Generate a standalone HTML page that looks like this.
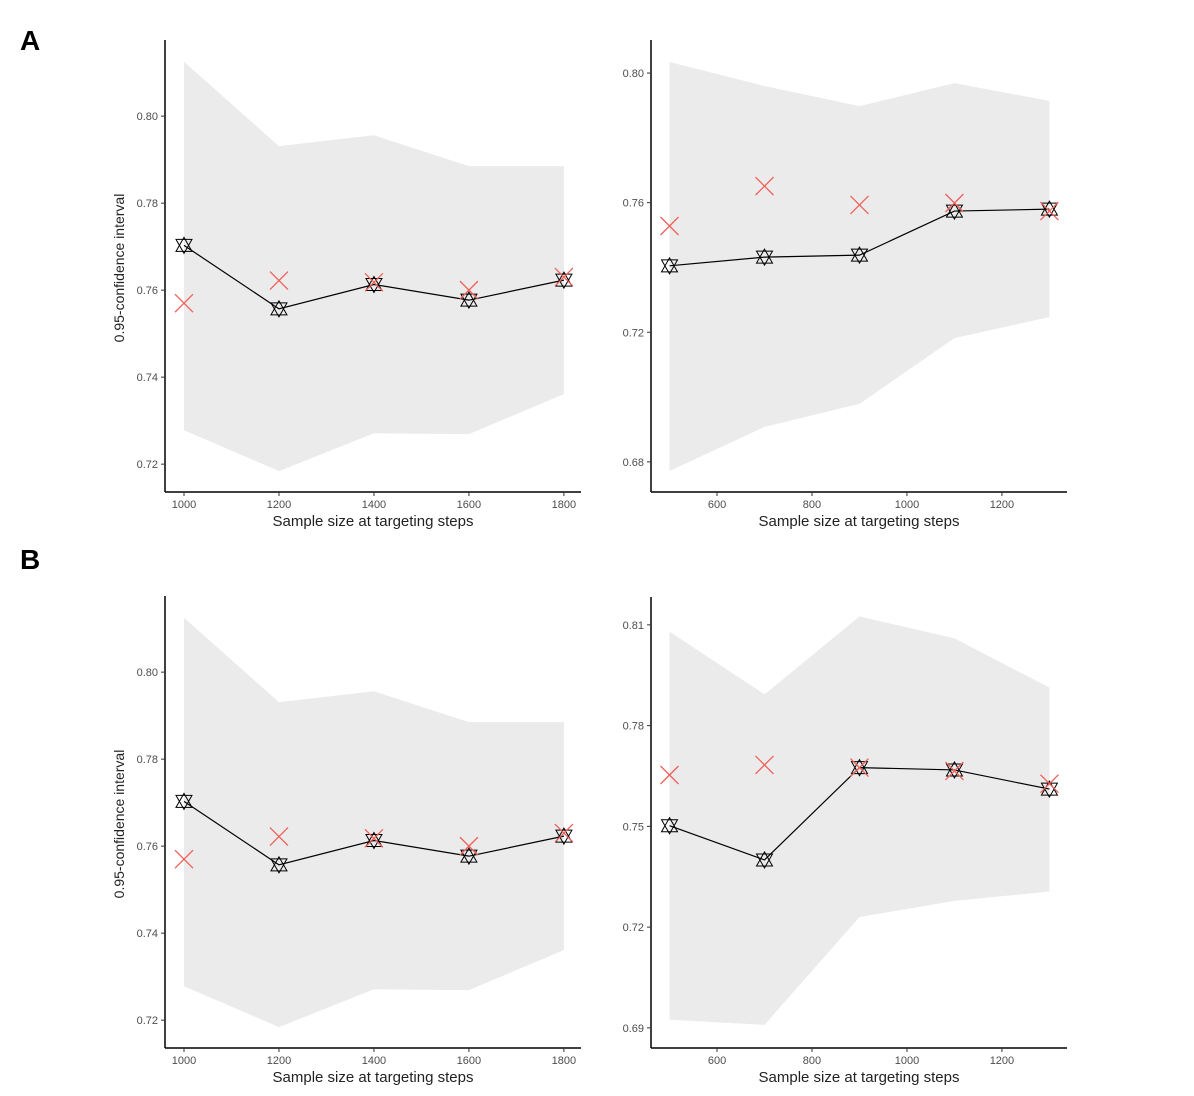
<!DOCTYPE html>
<html><head><meta charset="utf-8">
<style>
body{margin:0;background:#fff;width:1194px;height:1091px;overflow:hidden;font-family:"Liberation Sans",sans-serif}
svg text{font-family:"Liberation Sans",sans-serif}
</style></head>
<body>
<svg id="chart" width="1194" height="1091" viewBox="0 0 1194 1091" xmlns="http://www.w3.org/2000/svg">
<text x="20" y="50" font-size="28" font-weight="bold" fill="#000">A</text>
<text x="20" y="569" font-size="28" font-weight="bold" fill="#000">B</text>
</svg>
<script>
// Panel A-left / B-left data
const xA1 = [1000, 1200, 1400, 1600, 1800];
const meanA1 = [0.7703, 0.7557, 0.7613, 0.7577, 0.7623];
const redA1 = [0.757, 0.7622, 0.7618, 0.760, 0.763];
const upA1 = [0.8125, 0.7931, 0.7956, 0.7885, 0.7885];
const loA1 = [0.7278, 0.7184, 0.7271, 0.7269, 0.7361];
const yTicksA1 = [0.72, 0.74, 0.76, 0.78, 0.80];
const xTicksA1 = [1000, 1200, 1400, 1600, 1800];
// Panel A-right data
const xA2 = [500, 700, 900, 1100, 1300];
const meanA2 = [0.7405, 0.7432, 0.7438, 0.7574, 0.758];
const redA2 = [0.7528, 0.7651, 0.7593, 0.7599, 0.7574];
const upA2 = [0.8034, 0.796, 0.7898, 0.7969, 0.7914];
const loA2 = [0.6772, 0.6908, 0.6979, 0.7182, 0.7247];
const yTicksA2 = [0.68, 0.72, 0.76, 0.80];
const xTicksA2 = [600, 800, 1000, 1200];
// Panel B-right data
const meanB2 = [0.7502, 0.740, 0.7675, 0.7668, 0.7611];
const redB2 = [0.7653, 0.7683, 0.7675, 0.7665, 0.7627];
const upB2 = [0.808, 0.7893, 0.8125, 0.806, 0.7913];
const loB2 = [0.6924, 0.6909, 0.723, 0.7278, 0.7306];
const yTicksB2 = [0.69, 0.72, 0.75, 0.78, 0.81];

const svg = document.getElementById('chart');
const NS = 'http://www.w3.org/2000/svg';
function mk(tag, attrs, parent){
  const e = document.createElementNS(NS, tag);
  for (const k in attrs) e.setAttribute(k, attrs[k]);
  (parent||svg).appendChild(e);
  return e;
}

function panel(name, box, xDom, yDom, xs, mean, red, up, lo, xt, yt, showYTitle){
  const g = mk('g', {});
  
  
  const sx = v => box.l + (v - xDom[0]) / (xDom[1] - xDom[0]) * (box.r - box.l);
  const sy = v => box.b - (v - yDom[0]) / (yDom[1] - yDom[0]) * (box.b - box.t);
  let pts = xs.map((x,i)=>sx(x)+','+sy(up[i]));
  for (let i = xs.length-1; i>=0; i--) pts.push(sx(xs[i])+','+sy(lo[i]));
  const rib = mk('polygon', {points: pts.join(' '), fill:'#ebebeb'}, g);
  
  
  const ya = mk('line', {x1:box.l, y1:box.t, x2:box.l, y2:box.b, stroke:'#000', 'stroke-width':1.5}, g);
  
  
  const xa = mk('line', {x1:box.l, y1:box.b, x2:box.r, y2:box.b, stroke:'#000', 'stroke-width':1.5}, g);
  
  
  yt.forEach(v=>{
    const y = sy(v);
    mk('line', {x1:box.l-4, y1:y, x2:box.l, y2:y, stroke:'#333', 'stroke-width':1}, g);
    const t = mk('text', {x:box.l-7, y:y+4, 'font-size':11, fill:'#4d4d4d', 'text-anchor':'end'}, g);
    t.textContent = v.toFixed(2);
    
    
  });
  xt.forEach(v=>{
    const x = sx(v);
    mk('line', {x1:x, y1:box.b, x2:x, y2:box.b+4, stroke:'#333', 'stroke-width':1}, g);
    const t = mk('text', {x:x, y:box.b+16, 'font-size':11, fill:'#4d4d4d', 'text-anchor':'middle'}, g);
    t.textContent = v;
    
    
  });
  const xtTitle = mk('text', {x:(box.l+box.r)/2, y:box.b+34, 'font-size':15, fill:'#222', 'text-anchor':'middle'}, g);
  xtTitle.textContent = 'Sample size at targeting steps';
  
  
  if (showYTitle){
    const cy = (box.t+box.b)/2 + 2;
    const yt2 = mk('text', {x:0, y:0, 'font-size':14, fill:'#222', 'text-anchor':'middle', transform:'translate('+(box.l-41)+','+cy+') rotate(-90)'}, g);
    yt2.textContent = '0.95-confidence interval';
    
    
  }
  const ln = mk('polyline', {points: xs.map((x,i)=>sx(x)+','+sy(mean[i])).join(' '), fill:'none', stroke:'#000', 'stroke-width':1.2}, g);
  
  
  xs.forEach((x,i)=>{
    const cx = sx(x), cy = sy(mean[i]);
    const s = mk('g', {fill:'none', stroke:'#000', 'stroke-width':1}, g);
    
    
    mk('polygon', {points:`${cx},${cy-8} ${cx-8},${cy+6} ${cx+8},${cy+6}`}, s);
    mk('polygon', {points:`${cx},${cy+8} ${cx-8},${cy-6} ${cx+8},${cy-6}`}, s);
  });
  xs.forEach((x,i)=>{
    const cx = sx(x), cy = sy(red[i]);
    const r = mk('path', {d:`M${cx-9},${cy-9}L${cx+9},${cy+9}M${cx-9},${cy+9}L${cx+9},${cy-9}`, stroke:'#f0605a', 'stroke-width':1.3, fill:'none'}, g);
    
    
  });
}

panel('panel-a-left', {l:165,r:581,t:40,b:492}, [960,1836], [0.7136,0.8175], xA1, meanA1, redA1, upA1, loA1, xTicksA1, yTicksA1, true);
panel('panel-a-right', {l:651,r:1067,t:40,b:492}, [461,1337], [0.6707,0.8102], xA2, meanA2, redA2, upA2, loA2, xTicksA2, yTicksA2, false);
panel('panel-b-left', {l:165,r:581,t:596,b:1048}, [960,1836], [0.7136,0.8175], xA1, meanA1, redA1, upA1, loA1, xTicksA1, yTicksA1, true);
panel('panel-b-right', {l:651,r:1067,t:597,b:1048}, [461,1337], [0.684,0.8183], xA2, meanB2, redB2, upB2, loB2, xTicksA2, yTicksB2, false);
</script>
</body></html>
